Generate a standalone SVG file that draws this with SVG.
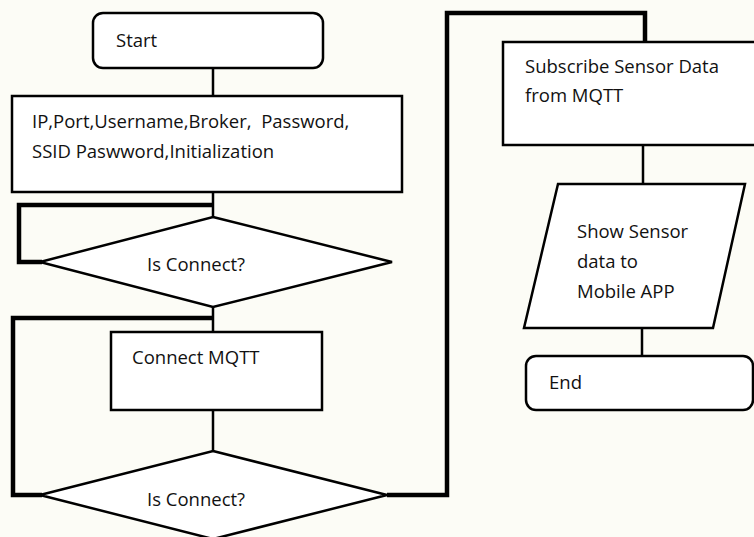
<svg xmlns="http://www.w3.org/2000/svg" width="754" height="537" viewBox="0 0 754 537">
<style>
.shape{fill:#ffffff;stroke:#000;stroke-width:2.5}
.lbl{font-family:"Open Sans","Liberation Sans",sans-serif;font-size:18.5px;fill:#111;white-space:pre}
.thin{fill:none;stroke:#000;stroke-width:2.5}
.thick{fill:none;stroke:#000;stroke-width:4.5}
</style>
<rect width="754" height="537" fill="#fcfcf6"/>
<g id="connectors">
<path class="thin" d="M213 68V96"/>
<path class="thin" d="M213 192V217"/>
<path class="thick" d="M42 262H19V205H213"/>
<path class="thin" d="M213 307V332"/>
<path class="thick" d="M42 495H13V318H213"/>
<path class="thin" d="M213 410V451"/>
<path class="thick" d="M387 495H447V13H645V42"/>
<path class="thin" d="M643 145V184"/>
<path class="thin" d="M642 328V356"/>
</g>
<g id="start">
<rect class="shape" x="93" y="13" width="230" height="55" rx="10"/>
<text class="lbl" x="116" y="47">Start</text>
</g>
<g id="init">
<rect class="shape" x="12" y="96" width="390" height="96"/>
<text class="lbl" x="32" y="128" xml:space="preserve">IP,Port,Username,Broker,  Password,</text>
<text class="lbl" x="32" y="158">SSID Paswword,Initialization</text>
</g>
<g id="decision1">
<polygon class="shape" points="213,217 392,262 213,307 40,262"/>
<text class="lbl" x="147" y="271">Is Connect?</text>
</g>
<g id="connect">
<rect class="shape" x="111" y="332" width="211" height="78"/>
<text class="lbl" x="132" y="364">Connect MQTT</text>
</g>
<g id="decision2">
<polygon class="shape" points="213,451 387,495 213,539 40,495"/>
<text class="lbl" x="147" y="506">Is Connect?</text>
</g>
<g id="subscribe">
<rect class="shape" x="503" y="42" width="256" height="103"/>
<text class="lbl" x="525" y="73">Subscribe Sensor Data</text>
<text class="lbl" x="525" y="102">from MQTT</text>
</g>
<g id="show">
<polygon class="shape" points="558,184 745,184 713,328 524,328"/>
<text class="lbl" x="577" y="238">Show Sensor</text>
<text class="lbl" x="577" y="268">data to</text>
<text class="lbl" x="577" y="298">Mobile APP</text>
</g>
<g id="end">
<rect class="shape" x="526" y="356" width="227" height="54" rx="10"/>
<text class="lbl" x="549" y="389">End</text>
</g>
</svg>
